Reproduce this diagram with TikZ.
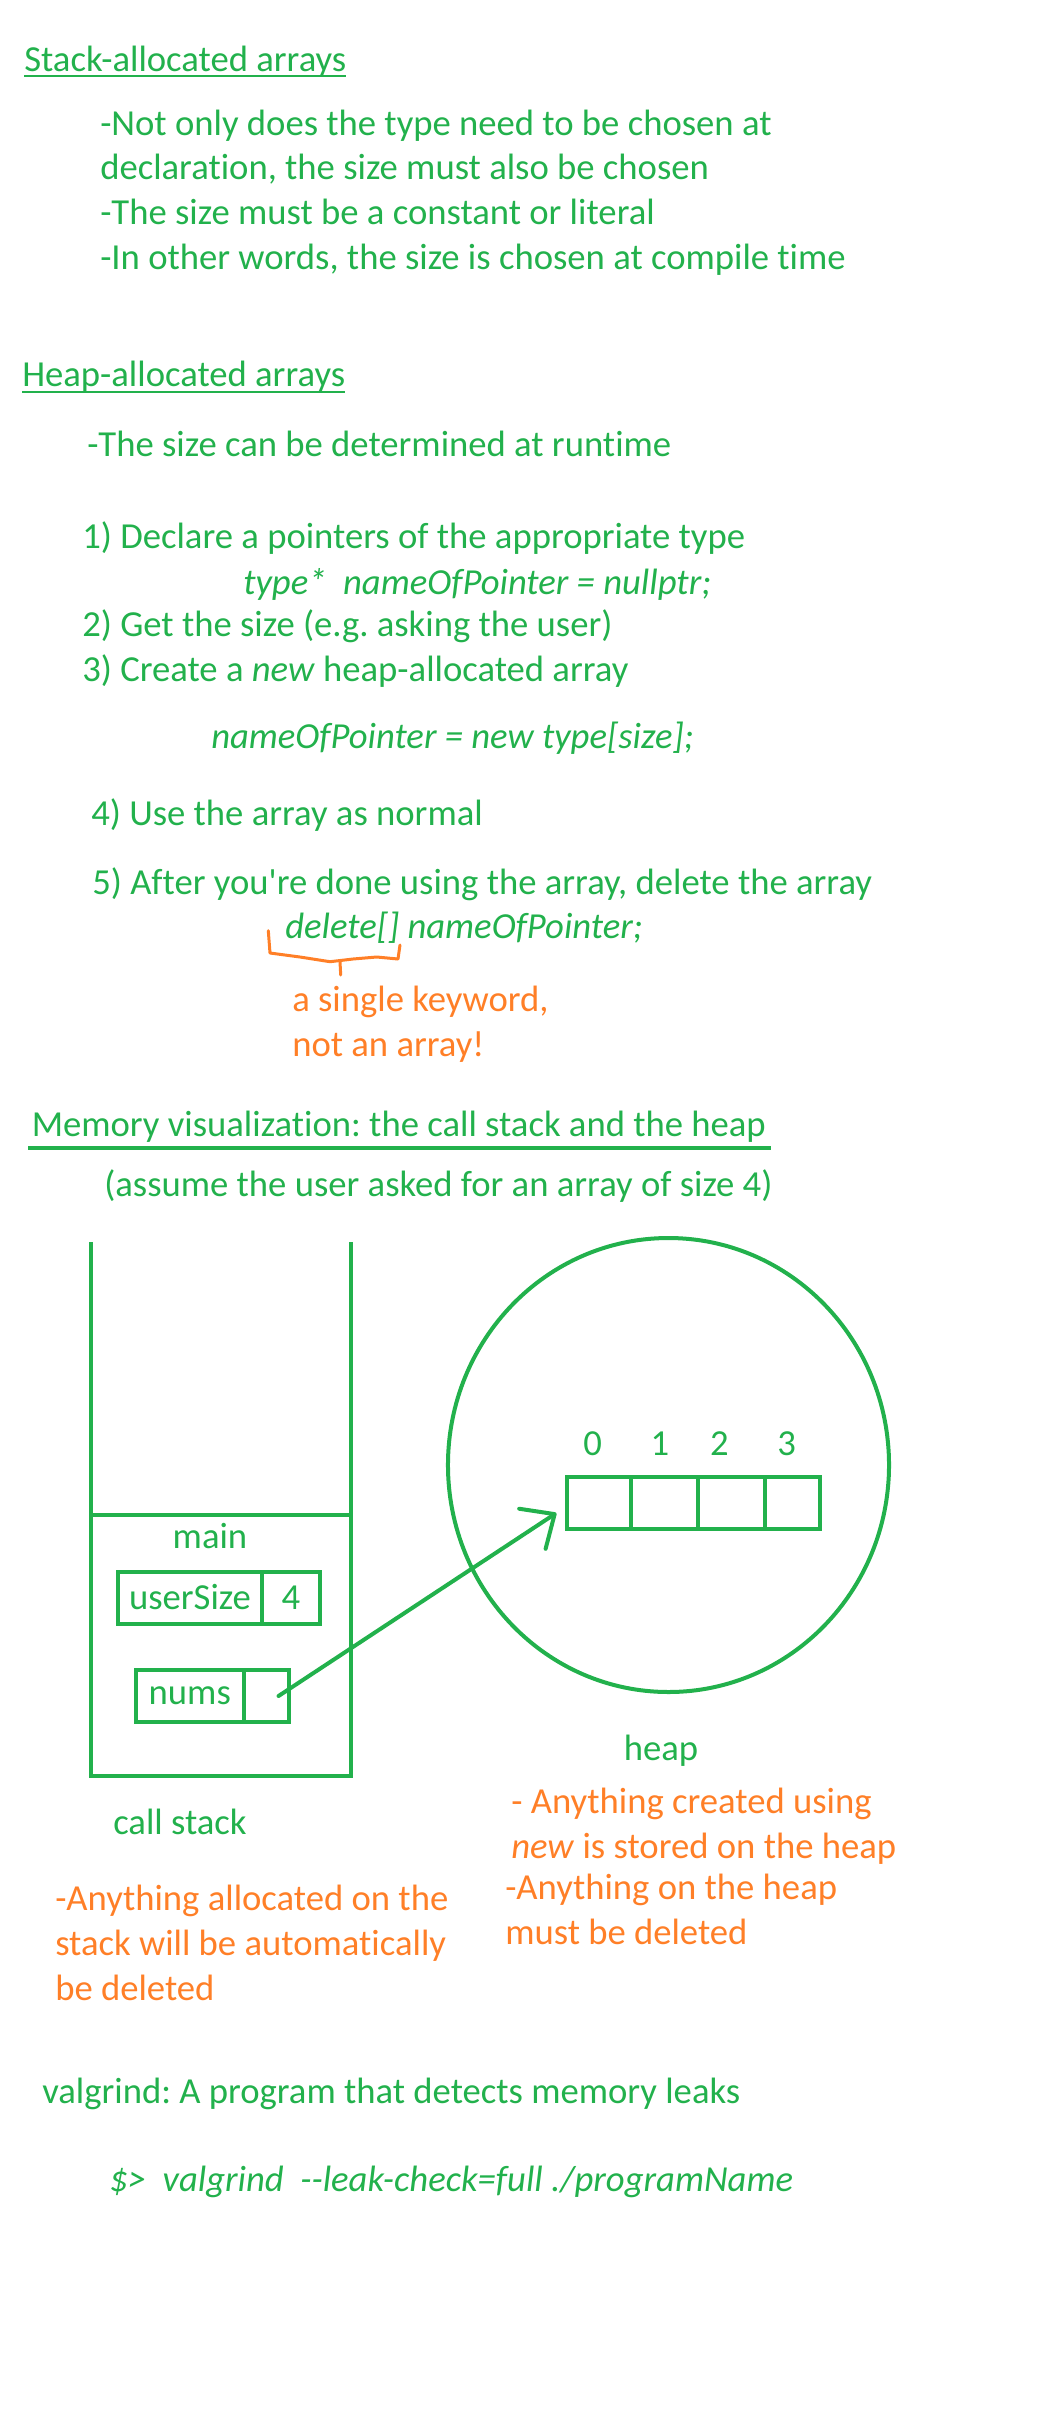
\documentclass[tikz,border=0pt]{standalone}
\usepackage{fontspec}
\setmainfont{Carlito}[Ligatures={NoCommon}]
\usetikzlibrary{arrows.meta}
\definecolor{paintgreen}{RGB}{34,177,76}
\definecolor{paintorange}{RGB}{255,127,39}
\frenchspacing
\tikzset{
  txt/.style={anchor=base west, inner sep=0pt, text=paintgreen, align=left,
    font=\fontsize{27.5}{33.5}\selectfont},
  note/.style={txt, text=paintorange},
  code/.style={txt, font=\fontsize{27.5}{33.5}\selectfont\itshape},
  label/.style={anchor=base, inner sep=0pt, text=paintgreen,
    font=\fontsize{27.5}{33.5}\selectfont},
  cell/.style={draw=paintgreen, line width=3pt, inner sep=0pt,
    minimum height=39pt, text=paintgreen, font=\fontsize{27.5}{30}\selectfont},
  frame/.style={draw=paintgreen, line width=3pt},
  uline/.style={draw=paintgreen, line width=1.5pt},
}
\begin{document}
\begin{tikzpicture}[x=0.75pt, y=-0.75pt]
      \useasboundingbox (0,0) rectangle (1048,2424);
      \draw
        (24,71) node[txt] (stackhead){Stack-allocated arrays}
        (100,269) node[txt] (stacknotes){-Not only does the type need to be chosen at\\
          declaration, the size must also be chosen\\
          -The size must be a constant or literal\\
          -In other words, the size is chosen at compile time}
        (22,386) node[txt] (heaphead){Heap-allocated arrays}
        (87,456) node[txt] (runtime){-The size can be determined at runtime}
        (82,548) node[txt] (step1){1) Declare a pointers of the appropriate type}
        (243,594) node[code] (decl){type* \ nameOfPointer = nullptr;}
        (82,636.5) node[txt] (step2){2) Get the size (e.g. asking the user)}
        (82,681) node[txt] (step3){3) Create a \textit{new} heap-allocated array}
        (211,748) node[code] (alloc){nameOfPointer = new type[size];}
        (91,825) node[txt] (step4){4) Use the array as normal}
        (92,894) node[txt] (step5){5) After you\textquotesingle re done using the array, delete the array}
        (285,938) node[code] (delcode){delete[] nameOfPointer;}
        (292,1056) node[note] (keyword){a single keyword,\\not an array!}
        (31.5,1136.5) node[txt] (memhead){Memory visualization: the call stack and the heap}
        (104,1196) node[txt] (assume){(assume the user asked for an array of size 4)}
        (113,1834) node[txt] (callstack){call stack}
        (661,1760) node[label] (heaplabel){heap}
        (511,1858) node[note] (heapnew){- Anything created using\\\textit{new} is stored on the heap}
        (505,1944) node[note] (heapdel){-Anything on the heap\\must be deleted}
        (55,2000) node[note] (stackdel){-Anything allocated on the\\stack will be automatically\\be deleted}
        (42,2103.5) node[txt] (valgrind){valgrind: A program that detects memory leaks}
        (109,2191.6) node[code] (cmd){\$> \ valgrind \ -{}-leak-check=full ./programName};
      \draw[uline] ([yshift=-3.75pt]stackhead.base west) -- ([yshift=-3.75pt]stackhead.base east);
      \draw[uline] ([yshift=-4.5pt]heaphead.base west) -- ([yshift=-4.5pt]heaphead.base east);
      \draw[uline, line width=3pt] ([xshift=-2.5pt,yshift=-8.6pt]memhead.base west) -- ([xshift=3.5pt,yshift=-8.6pt]memhead.base east);
      \draw[paintorange, line width=2.25pt, line join=round, line cap=round]
        (268.3,930.7) -- (270,953) -- (300,957) -- (330,961.7) -- (353,959)
        -- (376.7,957) -- (398,959) -- (400,945);
      \draw[paintorange, line width=2.25pt, line cap=round] (340,961.7) -- (340.7,975);
      \draw[frame] (90.6,1242) -- (90.6,1776) -- (351,1776) -- (351,1242);
      \draw[frame] (90.6,1515) -- (351,1515);
      \draw[frame] (668.5,1465) ellipse [x radius=165.4pt, y radius=170.25pt];
      \draw
        (210,1548) node[label] (main){main}
        (190,1597.5) node[cell, minimum width=108pt] (usersize){userSize}
        (291,1597.5) node[cell, minimum width=43.5pt] (uservalue){4}
        (189.8,1696) node[cell, minimum width=80.7pt] (nums){nums}
        (266,1696) node[cell, minimum width=33.75pt] (numsptr){}
        (599,1503) node[cell, minimum width=48pt] (a0){}
        (664.5,1503) node[cell, minimum width=50.25pt] (a1){}
        (731.5,1503) node[cell, minimum width=50.25pt] (a2){}
        (792.5,1503) node[cell, minimum width=41.25pt] (a3){}
        (592.6,1455.8) node[label] (i0){0}
        (660,1455.8) node[label] (i1){1}
        (719.5,1455.8) node[label] (i2){2}
        (786.6,1455.8) node[label] (i3){3};
      \begin{scope}[-{Straight Barb[length=20pt, width=36pt, round]}]
        \draw[paintgreen, line width=3pt, line cap=round] ([xshift=9.4pt]numsptr.center) to ([xshift=-6.5pt,yshift=-7.5pt]a0.west);
      \end{scope}
    \end{tikzpicture}
\end{document}
